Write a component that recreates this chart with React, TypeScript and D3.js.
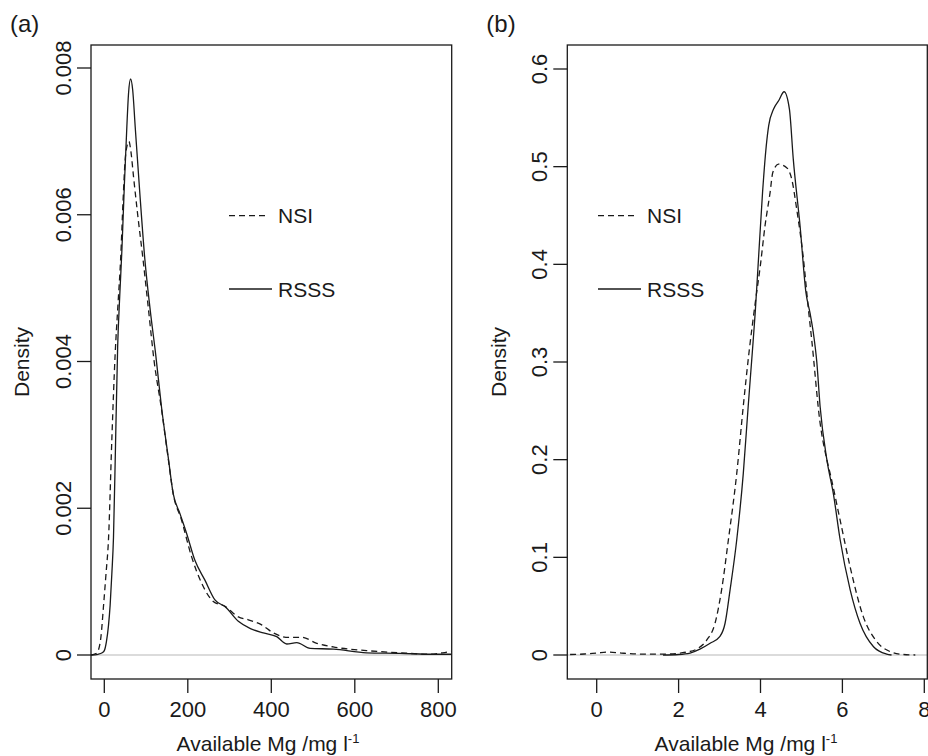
import React from "react";
import * as d3 from "d3";

// ---------- DATA ----------
// Panel (a): Available Mg (mg/l) density
const rsssA: [number, number][] = [
  [-32, 0], [-15, 0.00001], [-5, 0.00003], [0, 0.00006], [5, 0.00018], [10, 0.0004],
  [14, 0.00068], [18, 0.0011], [22, 0.0016], [27, 0.0029], [32, 0.0042], [37, 0.0049],
  [42, 0.0055], [48, 0.0064], [54, 0.0072], [58, 0.00765], [63, 0.00785], [68, 0.0077],
  [74, 0.0072], [85, 0.0063], [97, 0.0054], [110, 0.0047], [123, 0.0041], [137, 0.00338],
  [153, 0.0027], [165, 0.0022], [181, 0.00193], [197, 0.00166], [217, 0.00129],
  [241, 0.00102], [265, 0.00075], [289, 0.00066], [321, 0.00046], [350, 0.00036],
  [381, 0.0003], [413, 0.00025], [437, 0.00015], [461, 0.00017], [493, 0.00009],
  [549, 0.00008], [628, 0.00003], [708, 0.000023], [788, 0.00001], [832, 0.00001],
];
const nsiA: [number, number][] = [
  [-32, 0], [-20, 0.00002], [-14, 0.00007], [-8, 0.00025], [-2, 0.00066], [4, 0.0011],
  [10, 0.00157], [18, 0.00293], [26, 0.0041], [33, 0.0048], [39, 0.00538], [45, 0.0062],
  [50, 0.00675], [55, 0.00695], [59, 0.007], [64, 0.00685], [70, 0.00652], [80, 0.006],
  [93, 0.00538], [106, 0.0047], [119, 0.00402], [137, 0.00335], [153, 0.00268],
  [165, 0.0022], [185, 0.00184], [209, 0.00134], [233, 0.00098], [261, 0.00073],
  [290, 0.00066], [321, 0.00052], [345, 0.00048], [377, 0.00041], [405, 0.0003],
  [441, 0.00024], [473, 0.00024], [509, 0.00016], [548, 0.00011], [628, 0.00006],
  [708, 0.00003], [780, 0.00001], [810, 0.00003], [832, 0.00005],
];
// Panel (b): transformed Available Mg density
const rsssB: [number, number][] = [
  [1.62, 0], [2.0, 0.0005], [2.28, 0.002], [2.52, 0.006], [2.77, 0.012], [3.01, 0.019],
  [3.135, 0.0325], [3.257, 0.0667], [3.42, 0.118], [3.58, 0.186], [3.7, 0.255],
  [3.8, 0.31], [3.87, 0.35], [3.95, 0.405], [4.05, 0.4735], [4.14, 0.521], [4.2, 0.542],
  [4.32, 0.559], [4.45, 0.568], [4.576, 0.5767], [4.706, 0.559], [4.8, 0.508],
  [4.967, 0.439], [5.11, 0.371], [5.21, 0.35], [5.29, 0.33], [5.375, 0.3], [5.455, 0.2547],
  [5.62, 0.2], [5.78, 0.165], [5.945, 0.118], [6.19, 0.0667], [6.43, 0.0325],
  [6.76, 0.0085], [7.08, 0.001], [7.2, 0],
];
const nsiB: [number, number][] = [
  [-0.65, 0.0005], [-0.3, 0.001], [0.0, 0.002], [0.3, 0.003], [0.6, 0.002], [1.0, 0.001],
  [1.4, 0.0008], [1.8, 0.001], [2.04, 0.002], [2.2, 0.003], [2.44, 0.006], [2.69, 0.0154],
  [2.89, 0.0325], [3.05, 0.0667], [3.216, 0.118], [3.42, 0.186], [3.58, 0.255],
  [3.72, 0.31], [3.87, 0.36], [4.0, 0.4], [4.112, 0.44], [4.234, 0.4735], [4.3, 0.494],
  [4.437, 0.5026], [4.64, 0.499], [4.764, 0.487], [4.886, 0.456], [5.05, 0.405],
  [5.17, 0.354], [5.25, 0.323], [5.455, 0.2376], [5.62, 0.2], [5.7, 0.186],
  [5.945, 0.138], [6.19, 0.09], [6.51, 0.0393], [6.84, 0.0137], [7.17, 0.0034],
  [7.49, 0.0005], [7.78, 0],
];

const xTicksA = [0, 200, 400, 600, 800];
const yTicksA = [0, 0.002, 0.004, 0.006, 0.008];
const yLabelsA = ["0", "0.002", "0.004", "0.006", "0.008"];
const xTicksB = [0, 2, 4, 6, 8];
const yTicksB = [0, 0.1, 0.2, 0.3, 0.4, 0.5, 0.6];
const yLabelsB = ["0", "0.1", "0.2", "0.3", "0.4", "0.5", "0.6"];
const legendNames = ["NSI", "RSSS"];

const FONT = "'Liberation Sans', Arial, Helvetica, sans-serif";
const INK = "#1a1a1a";

type PanelProps = {
  id: string;
  tag: string;
  left: number;
  right: number;
  xDomain: [number, number];
  xRange: [number, number];
  yDomain: [number, number];
  xTicks: number[];
  yTicks: number[];
  yLabels: string[];
  dashed: [number, number][];
  solid: [number, number][];
  legendX: number;
  xLabelX: number;
};

const TOP = 45;
const BOTTOM = 679;

function Panel(p: PanelProps) {
  const x = d3.scaleLinear().domain(p.xDomain).range(p.xRange);
  const y = d3.scaleLinear().domain(p.yDomain).range([655, p.id === "a" ? 68 : 69]);
  const line = d3
    .line<[number, number]>()
    .x((d) => x(d[0]))
    .y((d) => y(d[1]))
    .curve(d3.curveMonotoneX);
  const clipId = "clip-" + p.id;
  return (
    <g>
      <defs>
        <clipPath id={clipId}>
          <rect x={p.left} y={TOP} width={p.right - p.left} height={BOTTOM - TOP} />
        </clipPath>
      </defs>
      <text x={p.left - 81} y={32} fontSize={24} fontFamily={FONT} fill={INK}>
        {p.tag}
      </text>
      {/* zero line */}
      <line
        x1={p.left}
        x2={p.right}
        y1={y(0)}
        y2={y(0)}
        stroke="#b8b8b8"
        strokeWidth={1.2}
      />
      <g clipPath={`url(#${clipId})`}>
        <path d={line(p.dashed) || ""} fill="none" stroke={INK} strokeWidth={1.3} strokeDasharray="6,4" />
        <path d={line(p.solid) || ""} fill="none" stroke={INK} strokeWidth={1.3} />
      </g>
      {/* box */}
      <rect
        x={p.left}
        y={TOP}
        width={p.right - p.left}
        height={BOTTOM - TOP}
        fill="none"
        stroke={INK}
        strokeWidth={1.3}
      />
      {/* x axis */}
      {p.xTicks.map((t) => (
        <g key={"xt" + t}>
          <line x1={x(t)} x2={x(t)} y1={BOTTOM} y2={BOTTOM + 14} stroke={INK} strokeWidth={1.3} />
          <text x={x(t)} y={717} textAnchor="middle" fontSize={22} fontFamily={FONT} fill={INK}>
            {t}
          </text>
        </g>
      ))}
      {/* y axis */}
      {p.yTicks.map((t, i) => (
        <g key={"yt" + t}>
          <line x1={p.left - 14} x2={p.left} y1={y(t)} y2={y(t)} stroke={INK} strokeWidth={1.3} />
          <text
            transform={`translate(${p.left - 20},${y(t)}) rotate(-90)`}
            textAnchor="middle"
            fontSize={22}
            fontFamily={FONT}
            fill={INK}
          >
            {p.yLabels[i]}
          </text>
        </g>
      ))}
      <text
        transform={`translate(${p.left - 61.7},${(TOP + BOTTOM) / 2}) rotate(-90)`}
        textAnchor="middle"
        fontSize={21}
        fontFamily={FONT}
        fill={INK}
      >
        Density
      </text>
      <text x={p.xLabelX} y={751} textAnchor="middle" fontSize={21} fontFamily={FONT} fill={INK}>
        Available Mg /mg l
        <tspan fontSize={13} dy={-8}>
          -1
        </tspan>
      </text>
      {/* legend */}
      <line
        x1={p.legendX}
        x2={p.legendX + 40}
        y1={215.7}
        y2={215.7}
        stroke={INK}
        strokeWidth={1.3}
        strokeDasharray="6,4"
      />
      <text x={p.legendX + 49} y={223.3} fontSize={21} fontFamily={FONT} fill={INK}>
        {legendNames[0]}
      </text>
      <line x1={p.legendX} x2={p.legendX + 43} y1={289} y2={289} stroke={INK} strokeWidth={1.3} />
      <text x={p.legendX + 49} y={296.6} fontSize={21} fontFamily={FONT} fill={INK}>
        {legendNames[1]}
      </text>
    </g>
  );
}

export default function App() {
  return (
    <svg
      width={928}
      height={756}
      style={{ position: "absolute", left: 0, top: 0, background: "#fff" }}
    >
      <rect width={928} height={756} fill="#fff" />
      <Panel
        id="a"
        tag="(a)"
        left={91}
        right={451.7}
        xDomain={[0, 800]}
        xRange={[104.3, 438.3]}
        yDomain={[0, 0.008]}
        xTicks={xTicksA}
        yTicks={yTicksA}
        yLabels={yLabelsA}
        dashed={nsiA}
        solid={rsssA}
        legendX={229}
        xLabelX={268}
      />
      <Panel
        id="b"
        tag="(b)"
        left={567.3}
        right={927.3}
        xDomain={[0, 8]}
        xRange={[596.7, 924.3]}
        yDomain={[0, 0.6]}
        xTicks={xTicksB}
        yTicks={yTicksB}
        yLabels={yLabelsB}
        dashed={nsiB}
        solid={rsssB}
        legendX={598}
        xLabelX={746}
      />
    </svg>
  );
}
